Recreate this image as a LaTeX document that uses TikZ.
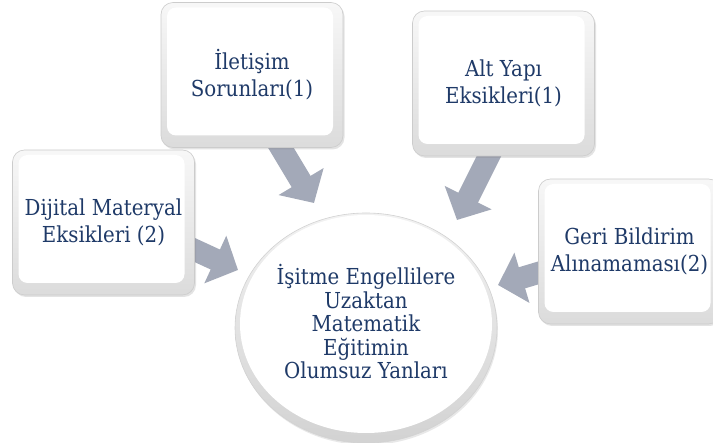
\documentclass[tikz,border=0pt]{standalone}
\usepackage{fontspec}
\setmainfont{DejaVu Serif Condensed}
\usetikzlibrary{shadows,arrows.meta,calc,shapes.geometric}
\definecolor{txtblue}{RGB}{31,58,104}
\definecolor{arrgray}{RGB}{163,169,184}
\tikzset{
  box/.style={draw=gray!40, line width=0.6pt, rounded corners=12pt,
    minimum width=182pt, minimum height=145pt, inner sep=0pt,
    top color=gray!6, bottom color=gray!28,
    drop shadow={opacity=0.22, shadow xshift=1.5pt, shadow yshift=-2pt},
    path picture={\fill[white, rounded corners=9pt]
      ($(path picture bounding box.south west)+(6pt,12pt)$) rectangle
      ($(path picture bounding box.north east)+(-10pt,-5pt)$);},
    text=txtblue, align=center, font=\fontsize{22}{27}\selectfont},
  hub/.style={ellipse, draw=gray!35, line width=0.6pt, inner sep=0pt,
    minimum width=262pt, minimum height=230pt,
    top color=gray!10, bottom color=gray!35,
    drop shadow={opacity=0.18, shadow xshift=1pt, shadow yshift=-2pt},
    path picture={\fill[white]
      ($(path picture bounding box.center)+(0pt,4pt)$)
      ellipse [x radius=126pt, y radius=109pt];}},
  hubtext/.style={text=txtblue, align=center, inner sep=0pt,
    font=\fontsize{22}{23.5}\selectfont},
  blockarrow/.style={draw=arrgray, line width=22pt,
    -{Triangle[length=25pt,width=51pt]}}
}
\begin{document}
\begin{tikzpicture}[x=1pt,y=-1pt]
\useasboundingbox (0,0) rectangle (713,443);
\clip (0,0) rectangle (713,443);
\fill[white] (0,0) rectangle (713,443);
% hub
\node[hub] (hub) at (366,328) {};
\node[hubtext] (hubt) at (366,322) {İşitme Engellilere\\Uzaktan\\Matematik\\Eğitimin\\Olumsuz Yanları};
% arrow coordinates
\coordinate (s1) at (275,138);
\coordinate (t1) at (314,203);
\coordinate (s2) at (186,246);
\coordinate (t2) at (238,270);
\coordinate (s3) at (493,148);
\coordinate (t3) at (457,220);
\coordinate (s4) at (548,270);
\coordinate (t4) at (498,285);
\draw[blockarrow] (s1) -- (t1);
\draw[blockarrow] (s2) -- (t2);
\draw[blockarrow] (s3) -- (t3);
\draw[blockarrow] (s4) -- (t4);
% boxes
\node[box] (tl) at (252,75) {İletişim\\Sorunları(1)};
\node[box] (tr) at (503.5,83.5) {Alt Yapı\\Eksikleri(1)};
\node[box] (lb) at (103.5,222.5) {Dijital Materyal\\Eksikleri (2)};
\node[box] (rb) at (629.5,251.5) {Geri Bildirim\\Alınamaması(2)};
\end{tikzpicture}
\end{document}
